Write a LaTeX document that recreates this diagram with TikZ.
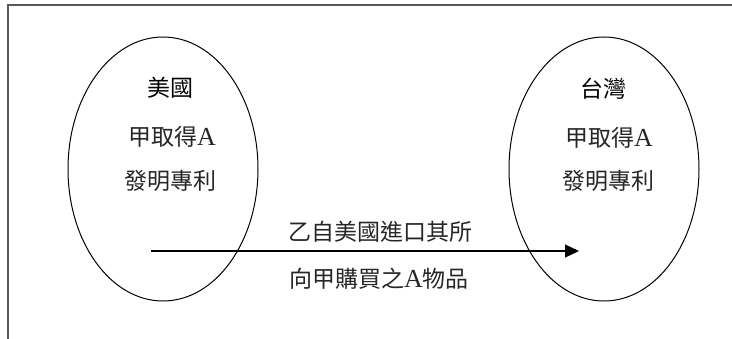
\documentclass[tikz,border=0pt]{standalone}
\usepackage{fontspec}
\setmainfont{Liberation Serif}
\newfontfamily\cjk{Noto Sans CJK TC}
\newfontfamily\latn{Liberation Serif}
\newcommand{\bigA}{{\latn\fontsize{26}{26}\selectfont A}}
\usetikzlibrary{shapes.geometric,arrows.meta}
\begin{document}
\begin{tikzpicture}[x=1pt,y=-1pt,
  oval/.style={draw=black,line width=1.0pt,ellipse,minimum width=190pt,minimum height=264pt,inner sep=0pt},
  lbl/.style={inner sep=0pt,font=\fontsize{23}{26}\selectfont\cjk,text=black!85},
  head/.style={inner sep=0pt,font=\fontsize{23}{26}\selectfont\cjk,text=black},
  frame/.style={draw=black!65,line width=1.6pt}]
\useasboundingbox (0,0) rectangle (732,339);
\coordinate (ftl) at (8,5);
\coordinate (ftr) at (732,5);
\coordinate (fbl) at (8,339);
\draw[frame] (fbl) -- (ftl) -- (ftr);
\node[oval] (us) at (163,169) {};
\node[oval] (tw) at (604,169) {};
\node[head] (ush) at (170,88) {美國};
\node[lbl] (us1) at (172,137) {甲取得\bigA};
\node[lbl] (us2) at (170,181) {發明專利};
\node[head] (twh) at (603,89) {台灣};
\node[lbl] (tw1) at (609,138) {甲取得\bigA};
\node[lbl] (tw2) at (608,181) {發明專利};
\coordinate (as) at (151,251);
\coordinate (ae) at (579,251);
\draw[line width=1.1pt,-{Triangle[length=14pt,width=13pt]}] (as) -- (ae);
\node[lbl] (a1) at (380,232) {乙自美國進口其所};
\node[lbl] (a2) at (379,279) {向甲購買之\bigA 物品};
\end{tikzpicture}
\end{document}
